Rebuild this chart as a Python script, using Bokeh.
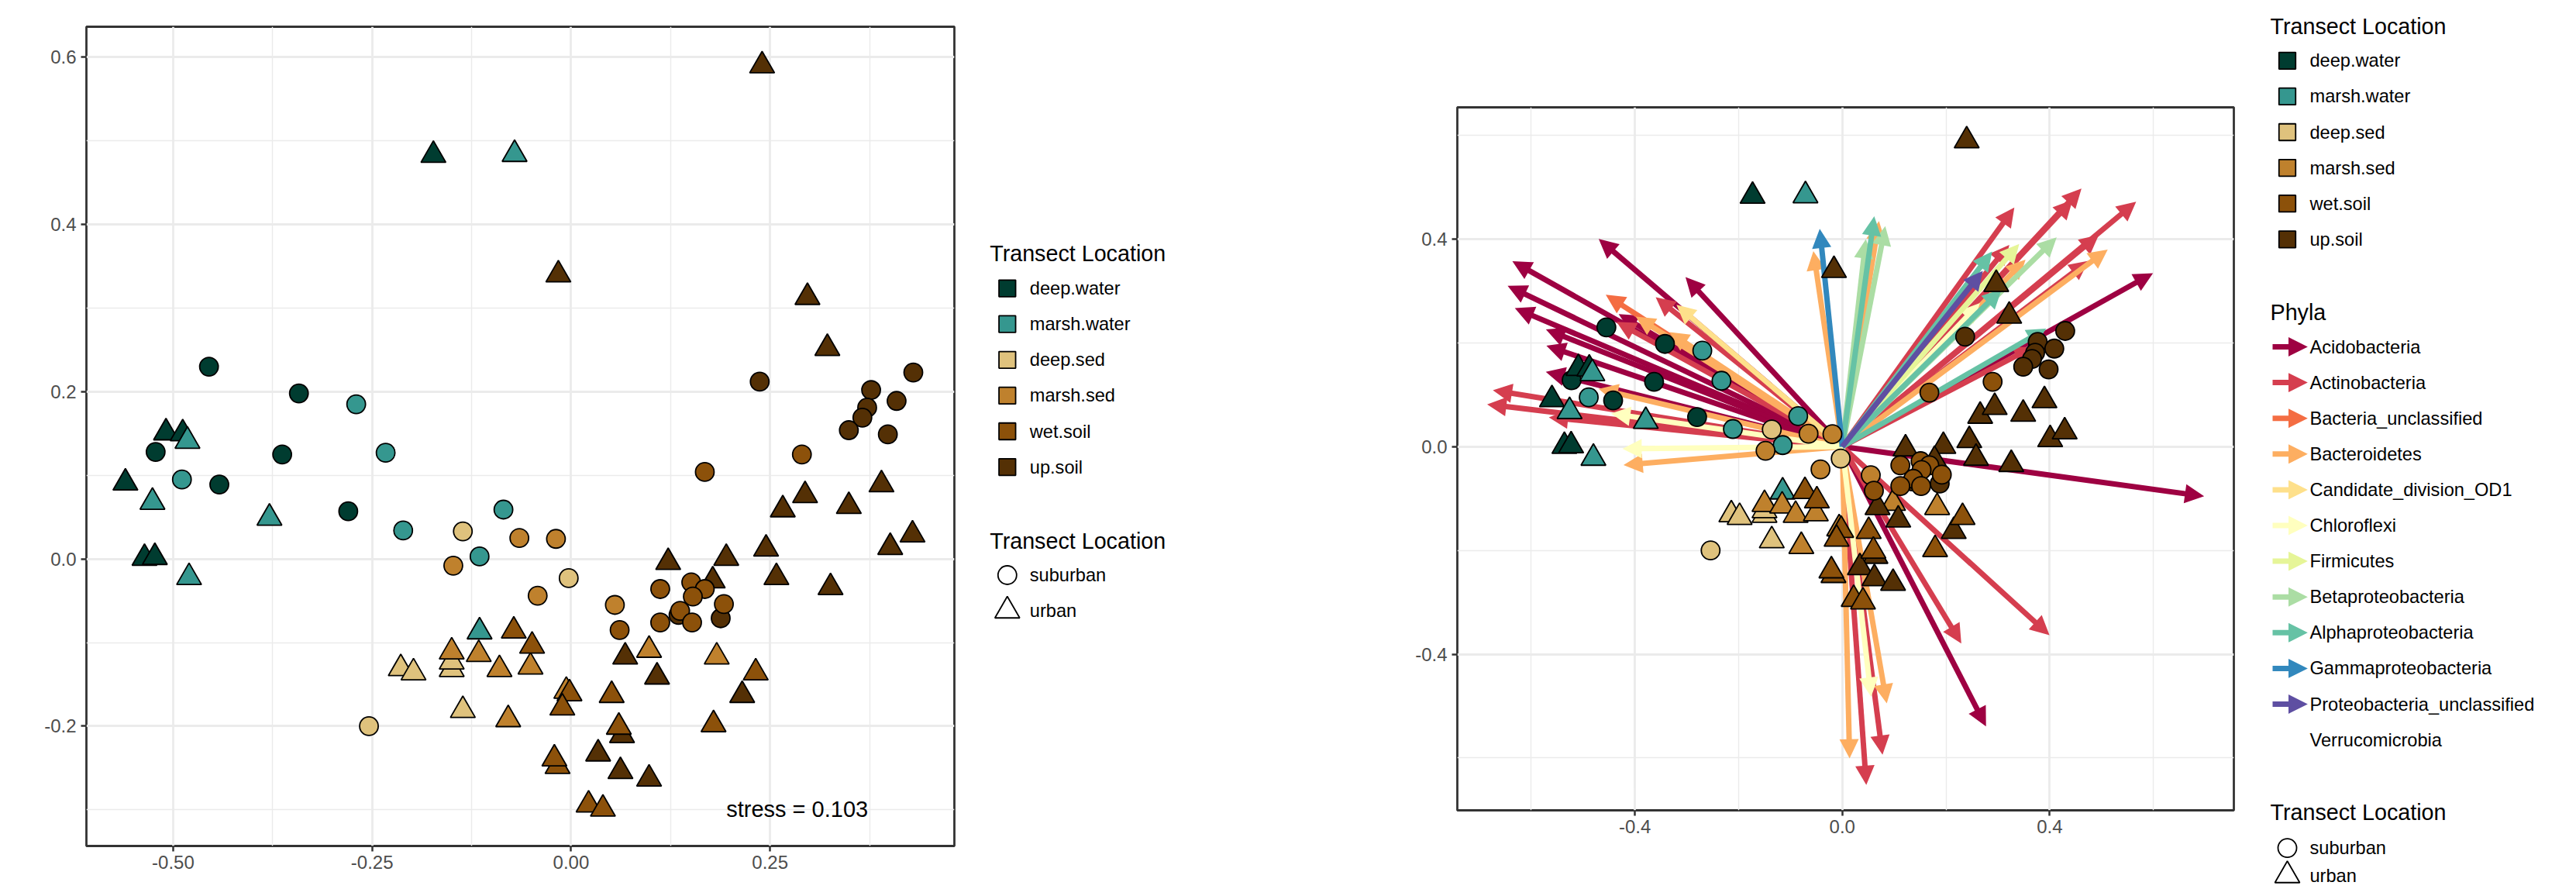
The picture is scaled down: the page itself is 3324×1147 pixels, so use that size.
from bokeh.plotting import figure
from bokeh.models import ColumnDataSource, Range1d, FixedTicker, NumeralTickFormatter, Arrow, NormalHead
from bokeh.layouts import row
from bokeh.embed import file_html
from bokeh.resources import INLINE
from bokeh.core.properties import value

FONT = "Liberation Sans"

# ---------------- categories ----------------
site_levels = ["deep.water", "marsh.water", "deep.sed", "marsh.sed", "wet.soil", "up.soil"]
site_colors = ["#003C30", "#35978F", "#DFC27D", "#BF812D", "#8C510A", "#543005"]
transect_levels = ["suburban", "urban"]
phyla_levels = ["Acidobacteria", "Actinobacteria", "Bacteria_unclassified", "Bacteroidetes",
                "Candidate_division_OD1", "Chloroflexi", "Firmicutes", "Betaproteobacteria",
                "Alphaproteobacteria", "Gammaproteobacteria", "Proteobacteria_unclassified",
                "Verrucomicrobia"]
phyla_colors = ["#9E0142", "#D53E4F", "#F46D43", "#FDAE61", "#FEE08B", "#FFFFBF", "#E6F598",
                "#ABDDA4", "#66C2A5", "#3288BD", "#5E4FA2", None]
stress_value = 0.103

# ---------------- NMDS scores (per site / transect) ----------------
dw_sub_x = [-0.455, -0.342, -0.522, -0.363, -0.442, -0.280]
dw_sub_y = [0.230, 0.198, 0.128, 0.125, 0.089, 0.057]
dw_urb_x = [-0.173, -0.509, -0.488, -0.560, -0.536, -0.523]
dw_urb_y = [0.483, 0.151, 0.150, 0.091, 0.001, 0.002]
mw_sub_x = [-0.270, -0.233, -0.489, -0.211, -0.085, -0.115]
mw_sub_y = [0.185, 0.127, 0.095, 0.034, 0.059, 0.003]
mw_urb_x = [-0.071, -0.482, -0.526, -0.379, -0.480, -0.115]
mw_urb_y = [0.484, 0.141, 0.068, 0.049, -0.022, -0.087]
ds_sub_x = [-0.136, -0.003, -0.254]
ds_sub_y = [0.033, -0.023, -0.200]
ds_urb_x = [-0.150, -0.150, -0.214, -0.198, -0.136]
ds_urb_y = [-0.132, -0.123, -0.131, -0.136, -0.181]
ms_sub_x = [-0.148, -0.065, -0.019, -0.042, 0.055]
ms_sub_y = [-0.008, 0.025, 0.024, -0.044, -0.055]
ms_urb_x = [-0.150, -0.116, -0.090, -0.079, -0.051, 0.098, 0.183, -0.006]
ms_urb_y = [-0.111, -0.114, -0.132, -0.192, -0.129, -0.109, -0.117, -0.158]
us_sub_x = [0.135, 0.188, 0.237, 0.430, 0.377, 0.409, 0.372, 0.366, 0.349, 0.398]
us_sub_y = [-0.067, -0.071, 0.212, 0.223, 0.202, 0.189, 0.181, 0.169, 0.154, 0.149]
us_urb_x = [0.240, -0.016, 0.297, 0.322, 0.122, 0.195, 0.245, 0.178, 0.258, 0.326, 0.266, 0.294,
            0.349, 0.390, 0.401, 0.429, 0.068, 0.108, 0.215, 0.064, 0.034, 0.062, 0.098]
us_urb_y = [0.590, 0.340, 0.313, 0.252, -0.004, 0.001, 0.012, -0.026, -0.022, -0.034, 0.059, 0.076,
            0.063, 0.089, 0.014, 0.029, -0.117, -0.141, -0.163, -0.211, -0.233, -0.254, -0.263]
ws_sub_x = [0.061, 0.168, 0.290, 0.112, 0.151, 0.168, 0.153, 0.192, 0.137, 0.112, 0.152]
ws_sub_y = [-0.085, 0.104, 0.125, -0.036, -0.028, -0.036, -0.045, -0.054, -0.062, -0.076, -0.076]
ws_urb_x = [-0.072, -0.049, 0.232, 0.179, -0.002, -0.011, 0.051, 0.060, -0.017, -0.021, 0.022, 0.040]
ws_urb_y = [-0.086, -0.104, -0.136, -0.198, -0.161, -0.178, -0.163, -0.201, -0.248, -0.239, -0.294, -0.299]

# ---------------- phyla vector end points (start at origin) ----------------
acido_x = [-0.466, -0.632, -0.641, -0.627, -0.567, -0.566, -0.567, -0.299, -0.427, 0.595, 0.693, 0.275]
acido_y = [0.397, 0.355, 0.308, 0.265, 0.224, 0.193, 0.143, 0.323, 0.253, 0.332, -0.095, -0.535]
actino_x = [-0.669, -0.680, -0.356, -0.431, -0.561, 0.329, 0.458, 0.441, 0.563, 0.491, 0.471, 0.319,
            0.364, 0.396, 0.227, 0.077, 0.046]
actino_y = [0.108, 0.081, 0.285, 0.238, 0.056, 0.457, 0.494, 0.472, 0.469, 0.405, 0.355, 0.385,
            0.190, -0.360, -0.375, -0.589, -0.647]
bactuncl_x = [-0.452]
bactuncl_y = [0.290]
bacteroid_x = [-0.394, -0.329, -0.465, -0.417, -0.055, 0.070, 0.350, 0.508, 0.085, 0.014]
bacteroid_y = [0.248, 0.218, 0.110, -0.035, 0.372, 0.430, 0.357, 0.377, -0.490, -0.596]
od1_x = [-0.316]
od1_y = [0.270]
chloro_x = [-0.441, -0.419, 0.262, 0.055]
chloro_y = [0.063, -0.004, 0.273, -0.477]
firmi_x = [0.338]
firmi_y = [0.387]
beta_x = [0.082, 0.045, 0.410]
beta_y = [0.420, 0.395, 0.400]
alpha_x = [0.061, 0.286, 0.304, 0.389]
alpha_y = [0.439, 0.372, 0.300, 0.225]
gamma_x = [-0.043]
gamma_y = [0.415]
proteo_x = [0.268]
proteo_y = [0.335]
verruco_x = []
verruco_y = []

# ---------------- tick definitions ----------------
p1_xticks = [-0.5, -0.25, 0.0, 0.25]
p1_xminor = [-0.375, -0.125, 0.125, 0.375]
p1_yticks = [-0.2, 0.0, 0.2, 0.4, 0.6]
p1_yminor = [-0.3, -0.1, 0.1, 0.3, 0.5]
p2_ticks = [-0.4, 0.0, 0.4]
p2_minor = [-0.6, -0.2, 0.2, 0.6]

# ---------------- assemble point table ----------------
groups = [
    ("deep.water", "suburban", dw_sub_x, dw_sub_y), ("deep.water", "urban", dw_urb_x, dw_urb_y),
    ("marsh.water", "suburban", mw_sub_x, mw_sub_y), ("marsh.water", "urban", mw_urb_x, mw_urb_y),
    ("deep.sed", "suburban", ds_sub_x, ds_sub_y), ("deep.sed", "urban", ds_urb_x, ds_urb_y),
    ("marsh.sed", "suburban", ms_sub_x, ms_sub_y), ("marsh.sed", "urban", ms_urb_x, ms_urb_y),
    ("up.soil", "suburban", us_sub_x, us_sub_y), ("up.soil", "urban", us_urb_x, us_urb_y),
    ("wet.soil", "suburban", ws_sub_x, ws_sub_y), ("wet.soil", "urban", ws_urb_x, ws_urb_y),
]
color_of = dict(zip(site_levels, site_colors))
marker_of = {"suburban": "circle", "urban": "triangle"}
size_of = {"suburban": 24, "urban": 32}
px, py, pc, pm, ps = [], [], [], [], []
for site, tr, xs, ys in groups:
    for a, b in zip(xs, ys):
        px.append(a); py.append(b)
        pc.append(color_of[site]); pm.append(marker_of[tr]); ps.append(size_of[tr])

def point_source():
    return ColumnDataSource(dict(x=px, y=py, color=pc, marker=pm, size=ps))

def style(p, xt, xm, yt, ym, xfmt, yfmt):
    xtk = FixedTicker(ticks=xt, minor_ticks=xm)
    ytk = FixedTicker(ticks=yt, minor_ticks=ym)
    p.xaxis.ticker = xtk
    p.yaxis.ticker = ytk
    p.xgrid.ticker = xtk
    p.ygrid.ticker = ytk
    p.xaxis.formatter = NumeralTickFormatter(format=xfmt)
    p.yaxis.formatter = NumeralTickFormatter(format=yfmt)
    for ax in p.axis:
        ax.axis_line_color = None
        ax.major_tick_line_color = "#333333"
        ax.major_tick_line_width = 2.5
        ax.major_tick_out = 7
        ax.major_tick_in = 0
        ax.minor_tick_line_color = None
        ax.major_label_text_font = FONT
        ax.major_label_text_font_size = "24px"
        ax.major_label_text_color = "#4D4D4D"
    p.xaxis.major_label_standoff = 5
    p.yaxis.major_label_standoff = 6
    for g in p.grid:
        g.grid_line_color = "#EBEBEB"
        g.grid_line_width = 2.8
        g.minor_grid_line_color = "#EBEBEB"
        g.minor_grid_line_width = 1.4
    p.outline_line_color = "#333333"
    p.outline_line_width = 2.8
    p.background_fill_color = "white"
    p.border_fill_color = "white"

H = 1146

def head(col):
    return NormalHead(size=20, fill_color=col, line_color=col, line_width=3, line_join="miter")

# ---------------- left panel: NMDS ----------------
p1 = figure(width=1236, height=H, x_range=Range1d(-0.609, 0.4816), y_range=Range1d(-0.3433, 0.6365),
            toolbar_location=None, output_backend="svg", title=None, frame_align=False,
            min_border_left=111, min_border_right=5, min_border_top=34, min_border_bottom=55)
style(p1, p1_xticks, p1_xminor, p1_yticks, p1_yminor, "0.00", "0.0")
p1.scatter(x="x", y="y", marker="marker", size="size", fill_color="color", line_color="black",
           line_width=1.8, source=point_source())
p1.text(x=[0.288], y=[-0.299], text=["stress =  %.3f" % stress_value], text_font=value(FONT),
        text_font_size=value("29px"), text_align="center", text_baseline="middle", text_color="black")

# ---------------- right panel: NMDS + phyla vectors ----------------
p2 = figure(width=1201, height=H, x_range=Range1d(-0.7425, 0.7553), y_range=Range1d(-0.701, 0.654),
            toolbar_location=None, output_backend="svg", title=None, frame_align=False,
            min_border_left=194, min_border_right=5, min_border_top=138, min_border_bottom=101)
style(p2, p2_ticks, p2_minor, p2_ticks, p2_minor, "0.0", "0.0")

vectors = [(acido_x, acido_y), (actino_x, actino_y), (bactuncl_x, bactuncl_y), (bacteroid_x, bacteroid_y),
           (od1_x, od1_y), (chloro_x, chloro_y), (firmi_x, firmi_y), (beta_x, beta_y),
           (alpha_x, alpha_y), (gamma_x, gamma_y), (proteo_x, proteo_y), (verruco_x, verruco_y)]
for (vx, vy), col in zip(vectors, phyla_colors):
    if col is None or len(vx) == 0:
        continue
    src = ColumnDataSource(dict(x0=[0.0] * len(vx), y0=[0.0] * len(vy), x1=vx, y1=vy))
    arr = Arrow(source=src, x_start="x0", y_start="y0", x_end="x1", y_end="y1",
                line_color=col, line_width=7, end=head(col))
    p2.add_layout(arr)

p2.scatter(x="x", y="y", marker="marker", size="size", fill_color="color", line_color="black",
           line_width=1.8, source=point_source(), level="overlay")

# ---------------- legend panels ----------------
def legend_fig(w):
    f = figure(width=w, height=H, x_range=Range1d(0, w), y_range=Range1d(H, 0),
               x_axis_type=None, y_axis_type=None, toolbar_location=None,
               output_backend="svg", title=None, min_border=0, frame_align=False)
    f.outline_line_color = None
    f.background_fill_color = "white"
    f.border_fill_color = "white"
    return f

def draw_title(f, x, y, txt):
    f.text(x=[x], y=[y], text=[txt], text_font=value(FONT), text_font_size=value("28.7px"),
           text_align="left", text_baseline="middle", text_color="black")

def draw_labels(f, x, ys, labels):
    f.text(x=[x] * len(ys), y=ys, text=labels, text_font=value(FONT), text_font_size=value("23.6px"),
           text_align="left", text_baseline="middle", text_color="black")

ROW = 46.1

def site_legend(f, tx, kx, lx, ty):
    draw_title(f, tx, ty, "Transect Location")
    ys = [ty + 44.8 + ROW * i for i in range(len(site_levels))]
    f.scatter(x=[kx] * len(ys), y=ys, marker="square", size=21.5, fill_color=site_colors,
              line_color="black", line_width=1.8)
    draw_labels(f, lx, ys, site_levels)

def shape_legend(f, tx, kx, lx, ty, ys):
    draw_title(f, tx, ty, "Transect Location")
    f.scatter(x=[kx] * 2, y=ys, marker=[marker_of[t] for t in transect_levels],
              size=[size_of[t] for t in transect_levels], fill_color="white",
              line_color="black", line_width=1.8)
    draw_labels(f, lx, ys, transect_levels)

leg1 = legend_fig(450)
site_legend(leg1, 40.7, 63.3, 92.3, 326.8)
shape_legend(leg1, 40.7, 63.3, 92.3, 697.4, [741.5, 787.5])

leg2 = legend_fig(436)
site_legend(leg2, 42, 64, 93, 33)
draw_title(leg2, 42, 402, "Phyla")
pys = [447 + ROW * i for i in range(len(phyla_levels))]
for yy, col in zip(pys, phyla_colors):
    if col is None:
        continue
    leg2.add_layout(Arrow(x_start=45, y_start=yy, x_end=87, y_end=yy, line_color=col, line_width=7,
                          end=head(col)))
draw_labels(leg2, 93, pys, phyla_levels)
shape_legend(leg2, 42, 64, 93, 1047.5, [1093.6, 1129])

layout = row(p1, leg1, p2, leg2, spacing=0)
open("out.html", "w").write(file_html(layout, INLINE))
